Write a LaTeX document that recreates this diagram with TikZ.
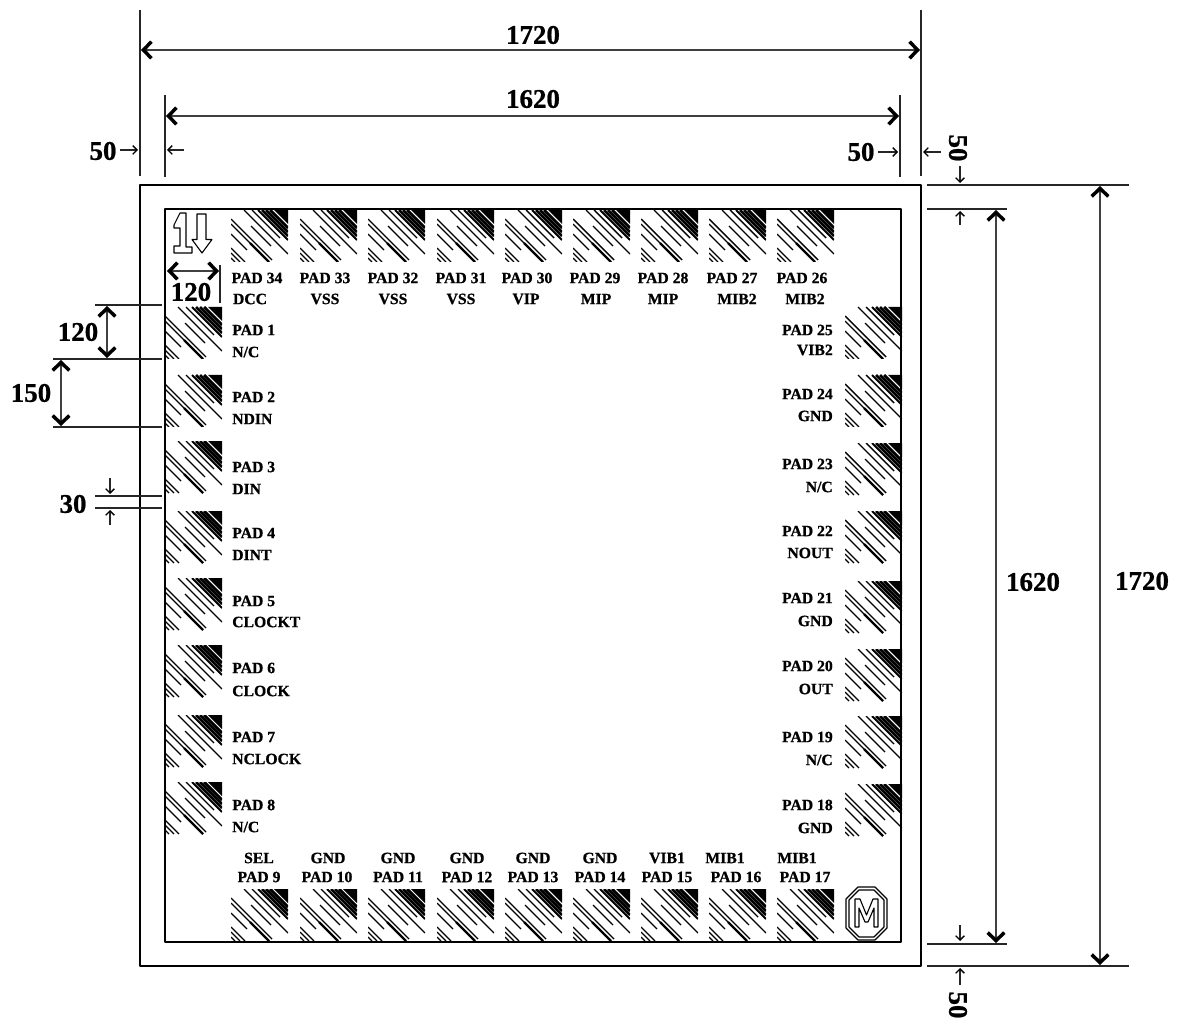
\documentclass[tikz,border=0pt]{standalone}
\usepackage{fontspec}
\setmainfont[BoldFeatures={FakeBold=0.8}]{Liberation Serif}
\usetikzlibrary{arrows.meta}
\tikzset{
	padlabel/.style={font=\fontsize{13.4}{14}\selectfont\bfseries,inner sep=0pt},
	dimlabel/.style={font=\fontsize{23}{24}\selectfont\bfseries,inner sep=0pt},
	bigdim/.style={line width=0.33mm,black!75,{Straight Barb[length=2.4mm,width=5mm,line width=1.05mm,black]}-{Straight Barb[length=2.4mm,width=5mm,line width=1.05mm,black]}},
	smalldim/.style={line width=0.33mm,black!85,-{Straight Barb[length=1.3mm,width=2.6mm,line width=0.38mm,black]}},
	extline/.style={line width=0.36mm,black!85},
	logo/.style={line width=0.33mm},
	pad/.pic={
		\begin{scope}
			\clip (0,0) rectangle (57,52);
			\fill (43,0)--(57,0)--(57,14)--cycle;
			\foreach \c/\w/\s/\e in {39/.85/0/18,35/.8/0/22,31/.75/0/26,27/.55/0/30,21/.42/0/28,13/.36/0/44,4/.36/16/36,-9/.42/9/50,-14/.38/14/52,-14/.65/33/52,-24/.36/24/40,-38/.34/38/52,-43/.34/43/52,-48/.34/48/52}{
				\draw[line width=\w mm,line cap=butt] (\c+\s,\s)--(\c+\e,\e);}
		\end{scope}
	}
}
\begin{document}
\begin{tikzpicture}[x=0.03cm,y=-0.03cm,line join=round]
	\useasboundingbox (0,0) rectangle (1178,1021);
	\draw[line width=0.75mm] (140,185) rectangle (921,966);
	\draw[line width=0.75mm] (165,209) rectangle (901,942);
	% pads
	\foreach \x in {231,300,368,437,505,573,641,709,777}{\pic at (\x,210) {pad}; \pic at (\x,889) {pad};}
	\foreach \y in {307,375,441,511,578,645,715,782}{\pic at (165,\y) {pad};}
	\foreach \y in {307,375,443,511,581,649,716,784}{\pic at (845,\y) {pad};}
	% pad labels
	\foreach \t/\x/\y in {PAD 34/257/278,PAD 33/325/278,PAD 32/393/278,PAD 31/461/278,PAD 30/527/278,PAD 29/595/278,PAD 28/663/278,PAD 27/732/278,PAD 26/802/278,
		DCC/250/299,VSS/325/299,VSS/393/299,VSS/461/299,VIP/526/299,MIP/596/299,MIP/663/299,MIB2/737/299,MIB2/805/299,
		SEL/259/858,GND/328/858,GND/398/858,GND/467/858,GND/533/858,GND/600/858,VIB1/667/858,MIB1/725/858,MIB1/797/858,
		PAD 9/259/877,PAD 10/327/877,PAD 11/398/877,PAD 12/467/877,PAD 13/533/877,PAD 14/600/877,PAD 15/667/877,PAD 16/736/877,PAD 17/805/877}{
		\node[padlabel] (t\x-\y) at (\x,\y) {\t};}
	\foreach \t/\y in {PAD 1/330,{N/C}/352,PAD 2/397,NDIN/419,PAD 3/467,DIN/489,PAD 4/533,DINT/555,PAD 5/601,CLOCKT/622,PAD 6/668,CLOCK/691,PAD 7/737,NCLOCK/759,PAD 8/805,{N/C}/827}{
		\node[padlabel,anchor=west] (l\y) at (232,\y) {\t};}
	\foreach \t/\y in {PAD 25/330,VIB2/350,PAD 24/394,GND/416,PAD 23/464,{N/C}/487,PAD 22/531,NOUT/553,PAD 21/598,GND/621,PAD 20/666,OUT/689,PAD 19/737,{N/C}/760,PAD 18/805,GND/828}{
		\node[padlabel,anchor=east] (r\y) at (833,\y) {\t};}
	% extension lines
	\draw[extline] (140,10)--(140,176) (921,10)--(921,176) (165,95)--(165,177) (900,95)--(900,177);
	\draw[extline] (927,185)--(1129,185) (927,209)--(1007,209) (927,944)--(1007,944) (927,966)--(1129,966);
	\draw[extline] (95,305)--(162,305) (53,359)--(162,359) (53,427)--(162,427) (95,496)--(162,496) (95,508)--(162,508);
	\draw[extline] (220,265)--(220,303);
	% dimensions
	\draw[bigdim] (141,50)--(920,50);
	\draw[bigdim] (166,116)--(899,116);
	\draw[bigdim] (996,210)--(996,943);
	\draw[bigdim] (1100,186)--(1100,965);
	\draw[bigdim] (107,306)--(107,358);
	\draw[bigdim] (61,360)--(61,426);
	\draw[bigdim] (167,271)--(219,271);
	\foreach \a/\b/\c/\d in {120/150/138/150,184/150/167/150,878/152/898/152,941/152/923/152,960/166/960/183,960/225/960/211,960/925/960/941,960/985/960/968,110/478/110/494,110/525/110/510}{
		\draw[smalldim] (\a,\b)--(\c,\d);}
	\foreach \t/\x/\y in {1720/533/35,1620/533/99,50/103/151,50/861/152,1620/1033/582,1720/1142/581,120/78/332,150/31/393,30/73/504,120/191/292}{
		\node[dimlabel] (d\x) at (\x,\y) {\t};}
	\node[dimlabel,rotate=-90] (top50) at (958,148) {50};
	\node[dimlabel,rotate=-90] (bot50) at (958,1005) {50};
	% orientation mark
	\draw[logo] (174,225)--(180,213)--(186,213)--(186,247)--(192,247)--(192,253)--(174,253)--(174,246)--(180,246)--(180,228)--(174,228)--cycle;
	\draw[logo] (197,214)--(206,214)--(206,239.5)--(212,239.5)--(202,253)--(192,239.5)--(197,239.5)--cycle;
	% maker mark
	\draw[logo] (858,887)--(875,887)--(887,899)--(887,928)--(875,940)--(858,940)--(846,928)--(846,899)--cycle;
	\draw[logo] (859,890)--(874,890)--(884,900)--(884,927)--(874,937)--(859,937)--(849,927)--(849,900)--cycle;
	\draw[logo] (855,899)--(860,899)--(866.5,915)--(873,899)--(878,899)--(878,927)--(874,927)--(874,908)--(868,922)--(865,922)--(859,908)--(859,927)--(855,927)--cycle;
\end{tikzpicture}
\end{document}
